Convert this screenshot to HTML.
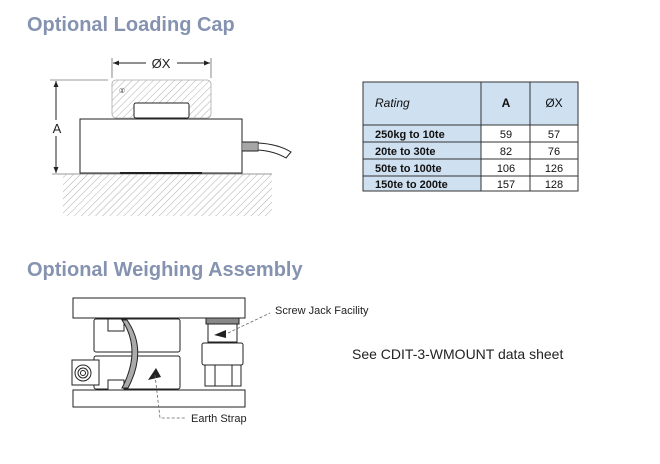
<!DOCTYPE html>
<html><head><meta charset="utf-8"><style>
body{margin:0;background:#fff;width:660px;height:464px;overflow:hidden}
svg{display:block}
</style></head><body>
<svg width="660" height="464" viewBox="0 0 660 464" xmlns="http://www.w3.org/2000/svg" font-family="Liberation Sans, sans-serif">
<defs>
<pattern id="h" width="5" height="5" patternUnits="userSpaceOnUse" patternTransform="rotate(45)">
<line x1="0" y1="0" x2="0" y2="5" stroke="#999" stroke-width="0.8"/>
</pattern>
</defs>
<text x="27" y="31" font-size="20" font-weight="bold" fill="#8593b0">Optional Loading Cap</text>
<text x="27" y="276" font-size="20" font-weight="bold" fill="#8593b0">Optional Weighing Assembly</text>

<!-- loading cap drawing -->
<rect x="63" y="174" width="209" height="42" fill="url(#h)"/>
<line x1="52" y1="174" x2="272" y2="174" stroke="#999"/>
<line x1="112" y1="58" x2="112" y2="78" stroke="#555" stroke-width="0.7"/>
<line x1="211" y1="58" x2="211" y2="78" stroke="#555" stroke-width="0.7"/>
<line x1="113" y1="63" x2="146" y2="63" stroke="#222"/>
<line x1="177" y1="63" x2="210" y2="63" stroke="#222"/>
<path d="M113 63 l6 -2.5 v5z M210 63 l-6 -2.5 v5z" fill="#222"/>
<text x="161" y="68" font-size="13" text-anchor="middle" fill="#222">ØX</text>
<line x1="50" y1="80" x2="108" y2="80" stroke="#777" stroke-width="0.7"/>
<line x1="56" y1="81" x2="56" y2="173" stroke="#222"/>
<path d="M56 81 l-2.5 6 h5z M56 173 l-2.5 -6 h5z" fill="#222"/>
<rect x="52" y="120" width="10" height="16" fill="#fff"/>
<text x="57" y="133" font-size="13" text-anchor="middle" fill="#222">A</text>
<rect x="112" y="80" width="99" height="38" rx="4" fill="url(#h)" stroke="#aaa" stroke-width="0.8"/>
<text x="119" y="93" font-size="7" fill="#333">①</text>
<rect x="134" y="103" width="55" height="15" rx="2" fill="#fff" stroke="#222"/>
<rect x="80" y="119" width="162" height="54" fill="#fff" stroke="#222"/>
<line x1="120" y1="173" x2="202" y2="173" stroke="#222" stroke-width="2"/>
<rect x="242" y="142" width="16" height="9" fill="#fff" stroke="#222"/>
<path d="M244 142 v9 M246 142 v9 M248 142 v9 M250 142 v9 M252 142 v9 M254 142 v9 M256 142 v9" stroke="#222" stroke-width="0.8"/>
<path d="M258 143 Q278 144 291 152 L286 158 Q274 151 258 150z" fill="#fff" stroke="#222"/>

<!-- table -->
<g font-size="11" fill="#111">
<rect x="363" y="82" width="215" height="109" fill="#fff" stroke="#333"/>
<rect x="363" y="82" width="215" height="43" fill="#cfe0f1"/>
<rect x="363" y="125" width="118" height="66" fill="#cfe0f1"/>
<path d="M363 125 H578 M363 142 H578 M363 159 H578 M363 176 H578 M481 82 V191 M530 82 V191" stroke="#333" fill="none"/>
<rect x="363" y="82" width="215" height="109" fill="none" stroke="#333"/>
<text x="375" y="107" font-style="italic" font-size="12">Rating</text>
<text x="506" y="107" text-anchor="middle" font-weight="bold" font-size="12">A</text>
<text x="554" y="107" text-anchor="middle" font-size="12">ØX</text>
<g font-weight="bold"><text x="375" y="138">250kg to 10te</text><text x="375" y="155">20te to 30te</text><text x="375" y="172">50te to 100te</text><text x="375" y="188">150te to 200te</text></g>
<g text-anchor="middle"><text x="506" y="138">59</text><text x="506" y="155">82</text><text x="506" y="172">106</text><text x="506" y="188">157</text>
<text x="554" y="138">57</text><text x="554" y="155">76</text><text x="554" y="172">126</text><text x="554" y="188">128</text></g>
</g>

<!-- assembly -->
<g stroke="#222" fill="#fff" stroke-width="1">
<rect x="73" y="298" width="172" height="20"/>
<rect x="73" y="390" width="172" height="17"/>
<rect x="94" y="319" width="86" height="33" rx="2"/>
<rect x="94" y="356" width="86" height="33" rx="2"/>
<rect x="108" y="319" width="16" height="12"/>
<rect x="108" y="380" width="16" height="10"/>
<rect x="72" y="360" width="27" height="25"/>
<circle cx="83" cy="373" r="8"/><circle cx="83" cy="373" r="5"/><circle cx="83" cy="373" r="2.5"/>
<rect x="206" y="318" width="33" height="6" fill="#888"/>
<rect x="208" y="324" width="29" height="18"/>
<rect x="202" y="343" width="41" height="22" rx="2"/>
<rect x="205" y="365" width="36" height="21"/>
<path d="M215 365 v21 M232 365 v21"/>
<path d="M122 320 Q142 350 122 388 L128 388 Q148 350 127 320z" fill="#aaa"/>
</g>
<path d="M214 335 l12 -5 v8z M148 380 l8 -12 l5 9z" fill="#222"/>
<g stroke="#666" stroke-dasharray="3,2" fill="none" stroke-width="0.8">
<path d="M228 333 L270 313"/>
<path d="M155 375 L160 418 L185 418"/>
</g>
<text x="275" y="314" font-size="11" fill="#222">Screw Jack Facility</text>
<text x="191" y="422" font-size="11" fill="#222">Earth Strap</text>
<text x="352" y="359" font-size="14" fill="#222">See CDIT-3-WMOUNT data sheet</text>
</svg>
</body></html>
